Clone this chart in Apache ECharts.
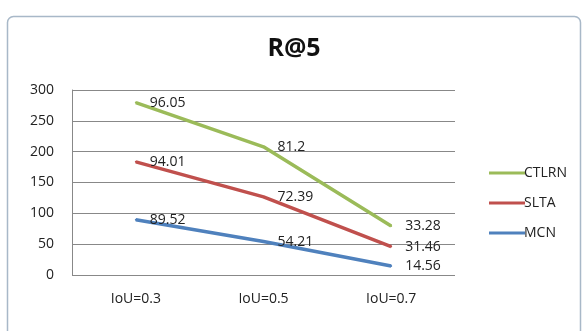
<!DOCTYPE html>
<html><head><meta charset="utf-8">
<script src="https://cdn.jsdelivr.net/npm/echarts@6/dist/echarts.min.js"></script>
<style>html,body{margin:0;padding:0;background:#fff}#c{width:588px;height:331px}</style>
</head><body><div id="c"></div>
<script>
const categories = ['IoU=0.3', 'IoU=0.5', 'IoU=0.7'];
const mcn = [89.52, 54.21, 14.56];
const slta = [94.01, 72.39, 31.46];
const ctlrn = [96.05, 81.2, 33.28];
const yTicks = [0, 50, 100, 150, 200, 250, 300];

const chart = echarts.init(document.getElementById('c'));
const lbl = {show: true, position: 'right', distance: 13, color: '#222', fontSize: 14, fontFamily: 'Open Sans, sans-serif'};
function mk(name, data, color) {
  return {name, type: 'line', stack: 'total', data, symbol: 'circle', symbolSize: 2, showSymbol: true,
    lineStyle: {width: 3.5, color}, itemStyle: {color}, label: lbl};
}
chart.setOption({
  animation: false,
  graphic: [{type: 'rect', shape: {x: 7.5, y: 16.5, width: 573, height: 330, r: 6},
    style: {fill: 'none', stroke: '#a8b8c8', lineWidth: 1.5}, z: -1}],
  title: {text: 'R@5', left: 'center', top: 31, textStyle: {fontSize: 25, fontWeight: 'bold', color: '#111', fontFamily: 'Open Sans, sans-serif'}},
  grid: {left: 72, right: 133, top: 90, bottom: 56},
  xAxis: {type: 'category', data: categories, boundaryGap: true,
    axisLine: {show: false}, axisTick: {show: false},
    axisLabel: {color: '#222', fontSize: 14, margin: 17, fontFamily: 'Open Sans, sans-serif'}},
  yAxis: {type: 'value', min: yTicks[0], max: yTicks[yTicks.length - 1], interval: 50,
    axisLine: {show: true, lineStyle: {color: '#888'}}, axisTick: {show: false},
    splitLine: {lineStyle: {color: '#888', width: 1}},
    axisLabel: {color: '#222', fontSize: 14, margin: 18, fontFamily: 'Open Sans, sans-serif'}},
  legend: {orient: 'vertical', left: 484, top: 161, itemGap: 16, itemWidth: 36, itemHeight: 3, icon: 'rect',
    data: ['CTLRN', 'SLTA', 'MCN'], textStyle: {color: '#222', fontSize: 14, padding: [0,0,0,-6], fontFamily: 'Open Sans, sans-serif'}},
  series: [mk('MCN', mcn, '#4F81BD'), mk('SLTA', slta, '#C0504D'), mk('CTLRN', ctlrn, '#9BBB59')]
});
</script></body></html>
